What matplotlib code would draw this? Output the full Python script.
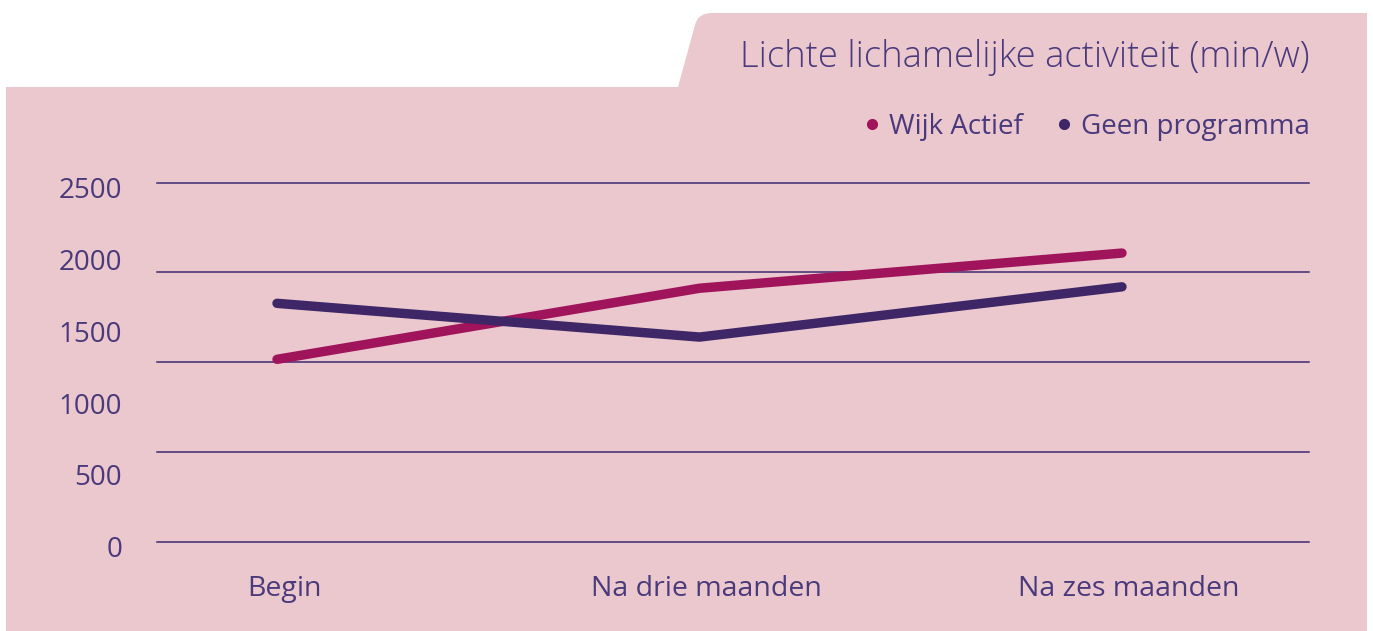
import numpy as np
import matplotlib
matplotlib.use("Agg")
import matplotlib.pyplot as plt
from matplotlib.path import Path
from matplotlib.patches import PathPatch
from matplotlib.lines import Line2D
import matplotlib.transforms as mtransforms

# data
categories = ["Begin", "Na drie maanden", "Na zes maanden"]
wijk_actief = [1270, 1765, 2010]
geen_programma = [1660, 1425, 1775]
series_names = ["Wijk Actief", "Geen programma"]
y_tick_values = [0, 500, 1000, 1500, 2000, 2500]
grid_values = [0, 625, 1250, 1875, 2500]
title = "Lichte lichamelijke activiteit (min/w)"

PINK = "#EAC8CE"
MAGENTA = "#A0145C"
PURPLE = "#3E2667"
GRID = "#3F2A72"
TEXT = "#4A3A7C"

W, H = 1373, 631
plt.rcParams['font.family'] = ['Open Sans', 'DejaVu Sans']
fig = plt.figure(figsize=(W / 100, H / 100), dpi=100, facecolor="white")

def fx(x):
    return x / W

def fy(y):
    return 1 - y / H

# pink panel + tab (pixel coords -> figure fraction)
verts = [(6, 87), (678, 87), (695, 25), (698, 13), (712, 13), (1367, 13),
         (1367, 631), (6, 631), (6, 87)]
codes = [Path.MOVETO, Path.LINETO, Path.LINETO, Path.CURVE3, Path.CURVE3,
         Path.LINETO, Path.LINETO, Path.LINETO, Path.CLOSEPOLY]
panel = Path([(fx(x), fy(y)) for x, y in verts], codes)
fig.patches.append(PathPatch(panel, facecolor=PINK, edgecolor="none",
                             transform=fig.transFigure, zorder=-5))

ax = fig.add_axes([fx(157), fy(541.7), fx(1309) - fx(157), (541.7 - 182.7) / H])
ax.set_zorder(2)
ax.set_facecolor("none")
for s in ax.spines.values():
    s.set_visible(False)

x = np.arange(len(categories))
ax.set_xlim((157 - 277) / 422.5, (1309 - 277) / 422.5)
ax.set_ylim(0, 2500)

for g in grid_values:
    ax.axhline(g, color=GRID, lw=1.1, clip_on=False, zorder=1)

ax.plot(x, wijk_actief, color=MAGENTA, lw=6.8, solid_capstyle="round",
        solid_joinstyle="round", clip_on=False, zorder=3)
ax.plot(x, geen_programma, color=PURPLE, lw=6.8, solid_capstyle="round",
        solid_joinstyle="round", clip_on=False, zorder=3)

ax.set_yticks(y_tick_values)
ax.set_yticklabels([str(v) for v in y_tick_values])
ax.set_xticks(x)
ax.set_xticklabels(categories)
ax.tick_params(axis="y", length=0, pad=25, labelsize=20, labelcolor=TEXT)
ax.tick_params(axis="x", length=0, pad=24, labelsize=20.5, labelcolor=TEXT)

# labels sit a bit below their values in the reference
off_y = mtransforms.ScaledTranslation(0, -5 / 100, fig.dpi_scale_trans)
for lab in ax.get_yticklabels():
    lab.set_transform(lab.get_transform() + off_y)
off_x = mtransforms.ScaledTranslation(7 / 100, 0, fig.dpi_scale_trans)
for lab in ax.get_xticklabels():
    lab.set_transform(lab.get_transform() + off_x)

fig.text(fx(1309), fy(58), title, ha="right", va="center", fontsize=26.2,
         color=TEXT, fontweight="light")

handles = [Line2D([], [], ls="none", marker="o", ms=7, color=MAGENTA),
           Line2D([], [], ls="none", marker="o", ms=7, color=PURPLE)]
fig.legend(handles, series_names, loc="center right",
           bbox_to_anchor=(fx(1321), fy(127)), frameon=False, ncol=2,
           fontsize=20, labelcolor=TEXT, handlelength=0.6, handletextpad=0.3,
           columnspacing=1.2, borderaxespad=0)

fig.savefig("out.png", dpi=100, facecolor="white")
